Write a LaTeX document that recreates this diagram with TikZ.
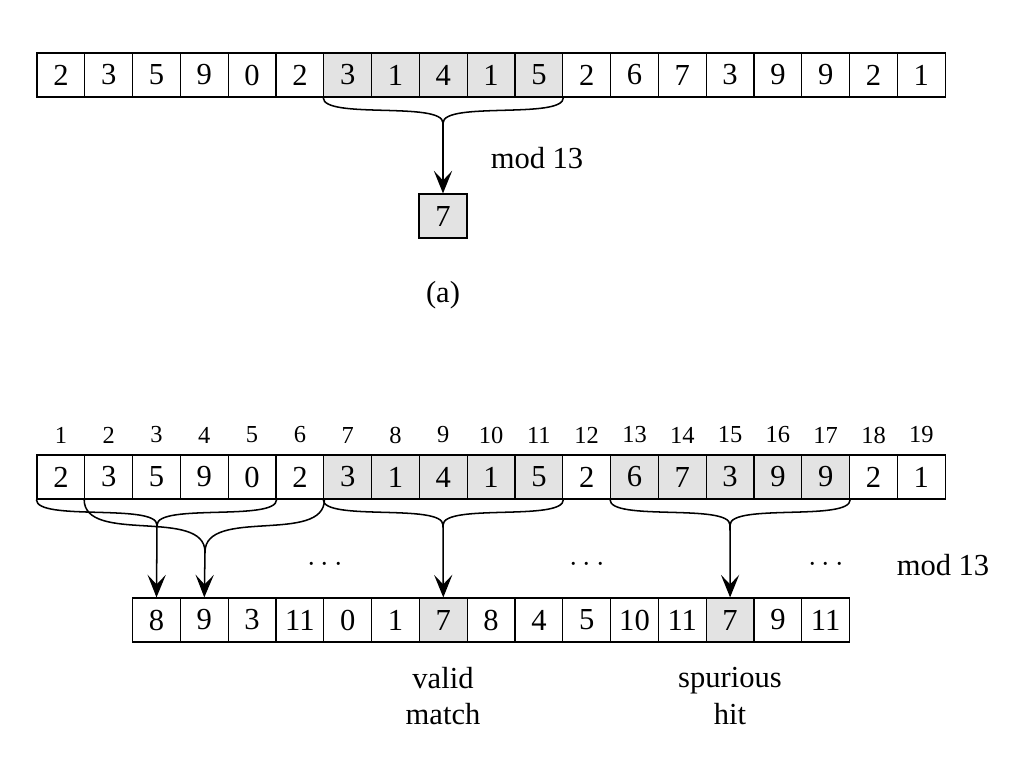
\documentclass[tikz,border=0pt]{standalone}
\usepackage{fontspec}
\setmainfont{Liberation Serif}
\usetikzlibrary{arrows.meta}
\tikzset{cell/.style={draw, minimum width=0.55cm, minimum height=0.506cm, inner sep=0pt, font=\fontsize{10}{12}\selectfont},
  hit/.style={cell, fill=gray!22},
  idx/.style={font=\fontsize{8}{10}\selectfont},
  lbl/.style={font=\fontsize{10}{12}\selectfont, align=center},
  brace/.style={draw, line width=0.5pt},
  line/.style={draw, line width=0.5pt, -{Stealth[length=2.6mm,width=2.1mm,inset=1.1mm]}}}

\begin{document}
\begin{tikzpicture}[x=0.0115cm, y=-0.0115cm]
  \useasboundingbox (0,0) rectangle (1022,762);
  % (a) text and window
  \foreach \d/\s [count=\i] in {2/cell,3/cell,5/cell,9/cell,0/cell,2/cell,3/hit,1/hit,4/hit,1/hit,5/hit,2/cell,6/cell,7/cell,3/cell,9/cell,9/cell,2/cell,1/cell}
    \node [\s] (a\i) at ({37+47.8*(\i-0.5)},75) {\d};
  \node [hit] (r) at (443,216) {7};
  \coordinate (ca) at (443,123);
  \path [brace] (a7.south west) .. controls +(0,22) and +(0,-22) .. (ca);
  \path [brace] (a11.south east) .. controls +(0,22) and +(0,-22) .. (ca);
  \path [line] (ca) -- (r.north);
  \node [lbl] (mod) at (537,158) {mod 13};
  \node [lbl] (capa) at (443,295) {(a)};
  % (b) indices, text and hash values
  \foreach \d/\s [count=\i] in {2/cell,3/cell,5/cell,9/cell,0/cell,2/cell,3/hit,1/hit,4/hit,1/hit,5/hit,2/cell,6/hit,7/hit,3/hit,9/hit,9/hit,2/cell,1/cell}
  {
    \node [\s] (t\i) at ({37+47.8*(\i-0.5)},477) {\d};
    \node [idx] (n\i) at ({37+47.8*(\i-0.5)},435) {\i};
  }
  \foreach \d/\s [count=\i] in {8/cell,9/cell,3/cell,11/cell,0/cell,1/cell,7/hit,8/cell,4/cell,5/cell,10/cell,11/cell,7/hit,9/cell,11/cell}
    \node [\s] (h\i) at ({37+47.8*(\i+1.5)},620) {\d};
  % windows
  \coordinate (c1) at (157,525);
  \coordinate (c2) at (205,552);
  \coordinate (c7) at (443,525);
  \coordinate (c13) at (730,525);
  \path [brace] (t1.south west) .. controls +(0,22) and +(0,-22) .. (c1);
  \path [brace] (t5.south east) .. controls +(0,22) and +(0,-22) .. (c1);
  \path [brace] (t2.south west) .. controls +(0,45) and +(0,-45) .. (c2);
  \path [brace] (t6.south east) .. controls +(0,45) and +(0,-45) .. (c2);
  \path [brace] (t7.south west) .. controls +(0,22) and +(0,-22) .. (c7);
  \path [brace] (t11.south east) .. controls +(0,22) and +(0,-22) .. (c7);
  \path [brace] (t13.south west) .. controls +(0,22) and +(0,-22) .. (c13);
  \path [brace] (t17.south east) .. controls +(0,22) and +(0,-22) .. (c13);
  \path [line] (c1) -- (h1.north);
  \path [line] (c2) -- (h2.north);
  \path [line] (c7) -- (h7.north);
  \path [line] (c13) -- (h13.north);
  \node [lbl] (d1) at (325,565) {$\cdots$};
  \node [lbl] (d2) at (587,565) {$\cdots$};
  \node [lbl] (d3) at (826,565) {$\cdots$};
  \node [lbl] (modb) at (943,565) {mod 13};
  \node [lbl] (valid) at (443,696) {valid\\match};
  \node [lbl] (spur) at (730,696) {spurious\\hit};
\end{tikzpicture}
\end{document}
